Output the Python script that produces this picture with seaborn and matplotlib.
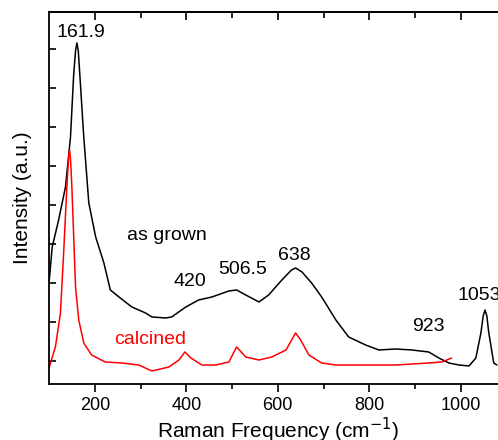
import matplotlib
matplotlib.use("Agg")
import matplotlib.pyplot as plt
import seaborn as sns
import pandas as pd

# as grown spectrum (Raman shift, intensity a.u.)
grown_x = [100, 107, 121, 136, 147, 154, 158, 161, 164, 167, 176, 187, 202, 220, 234, 253, 281,
           311, 325, 355, 368, 399, 427, 456, 493, 510, 530, 559, 580, 609, 630, 639, 653,
           674, 696, 727, 755, 792, 821, 858, 893, 930, 952, 974, 996, 1018, 1033,
           1044, 1049, 1053, 1057, 1061, 1072, 1079]
grown_y = [101, 137, 164, 197, 247, 310, 333, 341, 333, 312, 247, 181, 147, 121, 94, 87, 77,
           71, 67, 66, 67, 77, 84, 87, 93, 94, 89, 82, 89, 104, 114, 116, 112,
           101, 87, 64, 47, 39, 34, 35, 34, 32, 26, 21, 19, 18, 26,
           51, 68, 74, 68, 52, 21, 19]

# calcined spectrum
calc_x = [100, 114, 125, 132, 139, 143, 145, 147, 150, 158, 165, 176, 193, 223, 259, 296, 325,
          362, 384, 397, 410, 434, 465, 493, 510, 530, 559, 587, 618, 639, 650, 668,
          696, 727, 755, 784, 858, 930, 959, 980]
calc_y = [16, 37, 71, 131, 197, 228, 234, 225, 197, 97, 64, 41, 29, 22, 21, 19, 13,
          17, 24, 32, 26, 19, 19, 22, 37, 27, 24, 27, 34, 51, 44, 29,
          21, 19, 19, 19, 19, 21, 22, 26]

# peak labels
peak_labels = ["161.9", "420", "506.5", "638", "923", "1053"]
peak_x = [169, 408, 524, 637, 930, 1040]
peak_y = [351, 102, 114, 128, 57, 88]

sns.set_style("ticks")
plt.rcParams["font.family"] = ["Liberation Sans", "DejaVu Sans"]
for k in ["text.color", "axes.labelcolor", "xtick.color", "ytick.color", "axes.edgecolor"]:
    plt.rcParams[k] = "black"

fig = plt.figure(figsize=(4.98, 4.40), dpi=100)
ax = fig.add_axes([0.0984, 0.1273, 0.9187, 0.8455])

grown = pd.DataFrame({"x": grown_x, "y": grown_y})
calc = pd.DataFrame({"x": calc_x, "y": calc_y})
sns.lineplot(data=grown, x="x", y="y", color="black", lw=1.1, ax=ax, sort=False)
sns.lineplot(data=calc, x="x", y="y", color="red", lw=1.1, ax=ax, sort=False)

for t, x, y in zip(peak_labels, peak_x, peak_y):
    ax.text(x, y, t, ha="center", va="center", fontsize=14)
ax.text(357, 148, "as grown", ha="center", va="center", fontsize=14)
ax.text(320, 44, "calcined", ha="center", va="center", fontsize=14, color="red")

ax.set_xlim(100, 1100)
ax.set_ylim(0, 372)
ax.set_xticks([200, 400, 600, 800, 1000])
ax.set_xticks([300, 500, 700, 900], minor=True)
ax.set_yticks([23, 62, 101, 140, 179, 218, 257, 296, 335])
ax.set_yticklabels([])
ax.tick_params(axis="x", which="major", direction="out", length=6, width=1.2, labelsize=13)
ax.tick_params(axis="x", which="minor", direction="out", length=3.5, width=1.2)
ax.tick_params(axis="y", direction="in", length=5, width=1.2)

top = ax.secondary_xaxis("top")
top.set_xticks([200, 400, 600, 800, 1000])
top.set_xticks([300, 500, 700, 900], minor=True)
top.tick_params(which="major", direction="in", length=6, width=1.2, labeltop=False)
top.tick_params(which="minor", direction="in", length=4, width=1.2)
top.spines["top"].set_linewidth(1.3)

for s in ax.spines.values():
    s.set_linewidth(1.3)

ax.set_xlabel("Raman Frequency (cm$^{-1}$)", fontsize=15, labelpad=1)
ax.set_ylabel("Intensity (a.u.)", fontsize=15, labelpad=9)

fig.savefig("out.png", dpi=100)
